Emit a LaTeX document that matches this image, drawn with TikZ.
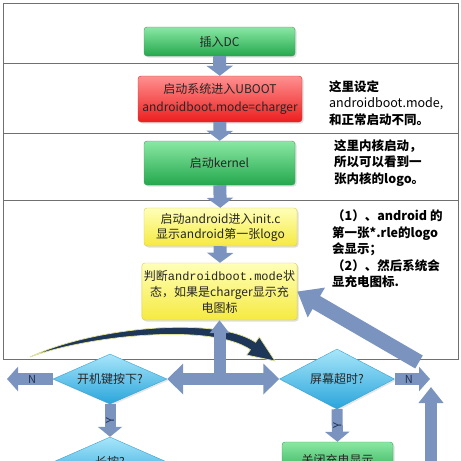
\documentclass[tikz,border=0pt]{standalone}
\usepackage{fontspec}
\setmainfont{Noto Sans CJK SC}
\setmonofont{Liberation Mono}
\usetikzlibrary{arrows.meta,positioning,calc,shapes.geometric,shadows}

\definecolor{boxgreentop}{HTML}{8AE8A4}
\definecolor{boxgreenbot}{HTML}{24A84D}
\definecolor{boxgreenline}{HTML}{3E9E5C}
\definecolor{boxredtop}{HTML}{FF9090}
\definecolor{boxredbot}{HTML}{EC1E1E}
\definecolor{boxredline}{HTML}{C83A3A}
\definecolor{boxyellowtop}{HTML}{FFFFB8}
\definecolor{boxyellowbot}{HTML}{F5EA40}
\definecolor{boxyellowline}{HTML}{D8CC50}
\definecolor{decisiontop}{HTML}{A8E6FA}
\definecolor{decisionbot}{HTML}{29A5DB}
\definecolor{decisionline}{HTML}{3BA0CF}
\definecolor{flowblue}{HTML}{7B94BF}
\definecolor{flowtext}{HTML}{1F3050}
\definecolor{curvenavy}{HTML}{1E3658}
\definecolor{curveglow}{HTML}{E2E49C}
\definecolor{framegray}{HTML}{707070}

\begin{document}
\begin{tikzpicture}[x=1pt, y=-1pt,
    stage/.style={rectangle, rounded corners=3pt, inner sep=2pt, align=center, text=black!85,
        font=\fontsize{12}{16}\selectfont,
        drop shadow={opacity=0.25, shadow xshift=1.5pt, shadow yshift=-1.5pt}},
    greenstage/.style={stage, top color=boxgreentop, bottom color=boxgreenbot, draw=boxgreenline},
    redstage/.style={stage, top color=boxredtop, bottom color=boxredbot, draw=boxredline},
    yellowstage/.style={stage, top color=boxyellowtop, bottom color=boxyellowbot, draw=boxyellowline},
    decision/.style={diamond, aspect=2.3, inner sep=0pt, top color=decisiontop, bottom color=decisionbot,
        draw=decisionline, text=black!85, font=\fontsize{12}{14}\selectfont,
        drop shadow={opacity=0.2, shadow xshift=1.5pt, shadow yshift=-1.5pt}},
    note/.style={anchor=north west, inner sep=0pt, align=left, font=\bfseries\fontsize{12.5}{16.5}\selectfont},
    flow/.style={draw=flowblue, line width=13pt, -{Triangle[width=26pt,length=10pt]}},
    flowlabel/.style={text=flowtext, font=\fontsize{11}{12}\selectfont, inner sep=0pt}
]
    \useasboundingbox (0,0) rectangle (461,461);
    \clip (0,0) rectangle (461,461);

    % table frame
    \draw[framegray, line width=0.8pt] (3,3) rectangle (458,359);
    \foreach \rowy in {63,133,200}
        \draw[framegray, line width=0.8pt] (3,\rowy) -- (458,\rowy);

    % boot stages
    \node[greenstage, minimum width=151pt, minimum height=29pt] (dc) at (219.5,41.5) {插入DC};
    \node[redstage, minimum width=164pt, minimum height=46pt] (uboot) at (220,99)
        {启动系统进入UBOOT\\[2pt]androidboot.mode=charger};
    \node[greenstage, minimum width=151pt, minimum height=44pt] (kernel) at (219.5,163) {启动kernel};
    \node[yellowstage, minimum width=153pt, minimum height=38pt] (initc) at (220.5,227)
        {启动android进入init.c\\[-1pt]显示android第一张logo};
    \node[yellowstage, minimum width=151pt, minimum height=57pt] (judge) at (219.5,291.5)
        {判断{\ttfamily androidboot.mode}状\\态，如果是charger显示充\\电图标};

    % notes
    \node[note] (ubootnote) at (329,80) {这里设定\\{\mdseries androidboot.mode,}\\和正常启动不同。};
    \node[note] (kernelnote) at (334,139) {这里内核启动，\\所以可以看到一\\张内核的logo。};
    \node[note] (initnote) at (332,210) {（1）、android 的\\第一张*.rle的logo\\会显示；\\（2）、然后系统会\\显充电图标.};

    % charger loop
    \node[decision, minimum width=114pt, minimum height=50pt] (chk) at (110,379) {开机键按下?};
    \node[decision, minimum width=115pt, minimum height=60pt] (tmo) at (337,379) {屏幕超时?};
    \node[decision, minimum width=114pt, minimum height=50pt] (hold) at (110,462) {长按?};
    \node[greenstage, minimum width=111pt, minimum height=36pt] (off) at (337.5,460) {关闭充电显示};

    \coordinate (nleft) at (7,379);
    \coordinate (nright) at (430,379);
    \coordinate (risefrom) at (431,470);
    \coordinate (riseto) at (431,387);
    \coordinate (backfrom) at (419,362);

    \draw[flow] (dc) -- (uboot);
    \draw[flow] (uboot) -- (kernel);
    \draw[flow] (kernel) -- (initc);
    \draw[flow] (initc) -- (judge);

    % swing from left to right
    \fill[curvenavy, draw=curveglow, line width=0.7pt]
        (30,357) .. controls (90,328) and (215,315) .. (255.6,342.3)
        -- (259.3,337) -- (275,361) -- (246.7,355) -- (250.4,349.7)
        .. controls (212,323) and (90,335) .. (30,357) -- cycle;

    \draw[flow, line width=12pt, {Triangle[width=30pt,length=16pt]}-{Triangle[width=30pt,length=16pt]}]
        (chk.east) -- (tmo.west);
    \draw[flow, line width=12pt, -{Triangle[width=19pt,length=13pt]}] (judge.south |- chk.east) -- (judge.south);

    \draw[flow, line width=12pt, -{Triangle[width=24pt,length=11pt]}] (chk.west) -- node[flowlabel, pos=0.45] {N} (nleft);
    \draw[flow, line width=12pt, -{Triangle[width=24pt,length=11pt]}] (tmo.east) -- node[flowlabel, pos=0.4] {N} (nright);
    \draw[flow, line width=11pt, -{Triangle[width=24pt,length=10pt]}] (chk.south) -- node[flowlabel, rotate=90] {Y} (hold.north);
    \draw[flow, line width=11pt, -{Triangle[width=24pt,length=10pt]}] (tmo.south) -- node[flowlabel, rotate=90] {Y} (off.north);
    \draw[flow, line width=12pt, -{Triangle[width=24pt,length=16pt]}] (risefrom) -- (riseto);
    \draw[flow, line width=15pt, -{Triangle[width=33pt,length=22pt]}] (backfrom) -- (judge.east);
\end{tikzpicture}
\end{document}
